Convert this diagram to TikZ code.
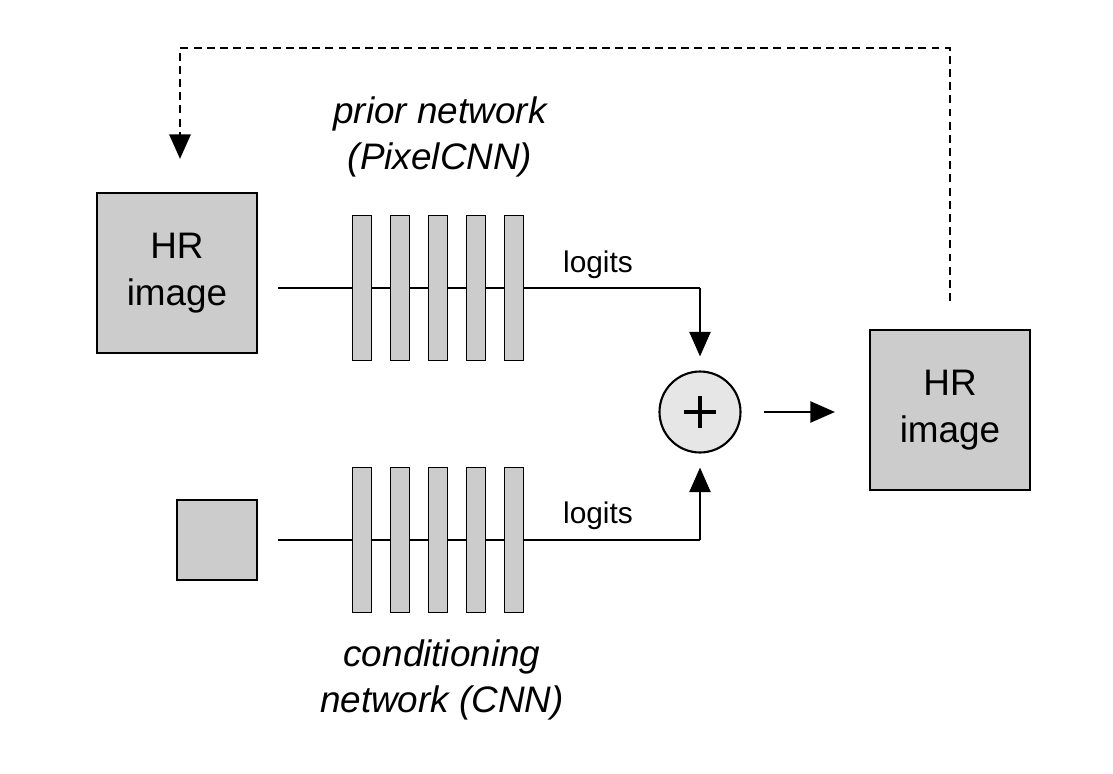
\documentclass[tikz,border=0pt]{standalone}
\usepackage{fontspec}
\setmainfont{Liberation Sans}
\usetikzlibrary{arrows.meta, positioning, calc}
\definecolor{boxgrey}{HTML}{CCCCCC}
\definecolor{sumgrey}{HTML}{E6E6E6}
\tikzset{
  imgbox/.style={draw, line width=1.2pt, fill=boxgrey, minimum size=3.2cm,
    inner sep=0pt, align=center, font=\fontsize{21}{27}\selectfont},
  layerbar/.style={draw, line width=0.8pt, fill=boxgrey, minimum width=0.38cm,
    minimum height=2.9cm, inner sep=0pt},
  sumnode/.style={circle, draw, line width=1.2pt, fill=sumgrey, minimum size=1.62cm,
    inner sep=0pt, path picture={
      \draw[line width=2pt] ($(path picture bounding box.center)+(-0.32cm,0)$)
        -- ($(path picture bounding box.center)+(0.32cm,0)$);
      \draw[line width=2pt] ($(path picture bounding box.center)+(0,-0.32cm)$)
        -- ($(path picture bounding box.center)+(0,0.32cm)$);}},
  netlabel/.style={align=center, font=\fontsize{21}{26.5}\selectfont\itshape},
  loglabel/.style={font=\fontsize{17}{20}\selectfont},
  arr/.style={line width=1.2pt, -{Triangle[length=14pt,width=12pt]}},
  fb/.style={line width=1.5pt, dash pattern=on 4.5pt off 3pt,
    -{Triangle[length=14pt,width=12pt]}}
}
\begin{document}
\begin{tikzpicture}[x=0.02cm, y=-0.02cm]
  \useasboundingbox (0,0) rectangle (1113,774);
  \node[imgbox] (hrin) at (177,273) {HR\\image};
  \node[imgbox, minimum size=1.6cm] (cond) at (217,540) {};
  \node[sumnode] (sum) at (700,412) {};
  \node[imgbox] (hrout) at (950,410) {HR\\image};
  \coordinate (pin) at (278,288);
  \coordinate (cin) at (278,540);
  \draw[line width=1.2pt] (pin) -- (sum.north |- pin);
  \draw[arr, shorten >=0.28cm] (sum.north |- pin) -- (sum.north);
  \draw[line width=1.2pt] (cin) -- (sum.south |- cin);
  \draw[arr, shorten >=0.28cm] (sum.south |- cin) -- (sum.south);
  \foreach \i in {0,...,4}{%
    \node[layerbar] (pbar\i) at (362+38*\i,288) {};
    \node[layerbar] (cbar\i) at (362+38*\i,540) {};}
  \node[loglabel] (plog) at (598,265) {logits};
  \node[loglabel] (clog) at (598,516) {logits};
  \node[netlabel] (prior) at (440,137) {prior network\\(PixelCNN)};
  \node[netlabel] (condnet) at (442,680) {conditioning\\network (CNN)};
  \draw[arr, shorten <=0.44cm, shorten >=0.68cm] (sum) -- (sum -| hrout.west);
  \draw[fb] ($(hrout.north)+(0,-28)$) -- ++(0,-253) -| ($(hrin.north)+(3,-33)$);
\end{tikzpicture}
\end{document}
